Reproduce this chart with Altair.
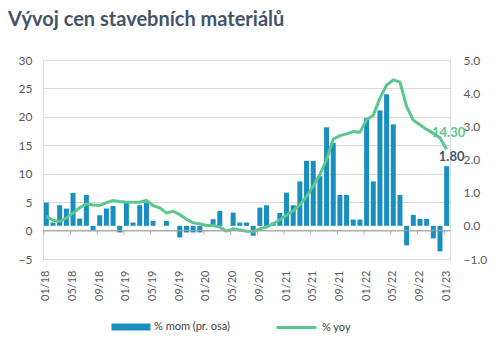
import altair as alt
import pandas as pd

# ---- data ----
MONTHS = [f"{m:02d}/{y:02d}" for y in range(18, 24) for m in range(1, 13)][:61]
AXIS_LABELS = ["01/18", "05/18", "09/18", "01/19", "05/19", "09/19", "01/20", "05/20",
               "09/20", "01/21", "05/21", "09/21", "01/22", "05/22", "09/22", "01/23"]
MOM = [0.70, 0.10, 0.62, 0.52, 0.99, 0.22, 0.93, -0.15, 0.32, 0.52, 0.60, -0.20,
       0.70, 0.10, 0.62, 0.70, 0.15, 0.00, 0.15, 0.00, -0.35, -0.20, -0.20, -0.20,
       0.05, 0.20, 0.45, 0.00, 0.40, 0.10, 0.10, -0.30, 0.55, 0.62, 0.10, 0.39,
       1.00, 0.62, 1.34, 1.96, 1.96, 1.50, 2.97, 2.50, 0.93, 0.93, 0.19, 0.19,
       3.25, 1.34, 3.48, 3.97, 3.06, 0.93, -0.59, 0.33, 0.21, 0.21, -0.38, -0.77,
       1.80]
YOY = [2.5, 1.8, 1.6, 2.2, 3.1, 4.0, 4.7, 4.5, 4.4, 4.9, 5.3, 5.1,
       5.0, 5.0, 5.0, 5.3, 4.4, 4.0, 3.1, 3.4, 2.8, 2.0, 1.35, 1.2,
       0.9, 0.9, 0.6, -0.1, 0.3, 0.1, -0.1, -0.2, 0.3, 0.6, 1.2, 1.9,
       2.7, 3.5, 4.5, 6.0, 7.8, 9.8, 12.5, 16.1, 16.7, 17.0, 17.4, 17.3,
       19.5, 20.3, 23.3, 25.6, 26.5, 26.1, 21.8, 19.4, 18.6, 17.8, 17.1, 16.3,
       14.3]
LEFT_TICKS = [-5, 0, 5, 10, 15, 20, 25, 30]
RIGHT_TICKS = [-1, 0, 1, 2, 3, 4, 5]
MOM_NAME = "% mom (pr. osa)"
YOY_NAME = "% yoy"

BAR_COLOR = "#1A8EBF"
LINE_COLOR = "#5AC78E"
TEXT_DARK = "#44546A"
AXIS_TEXT = "#595959"
GRID = "#D9D9D9"
FONT = "Lato"

df = pd.DataFrame({"month": MONTHS, "mom": MOM, "yoy": YOY,
                   "s_mom": [MOM_NAME] * len(MONTHS), "s_yoy": [YOY_NAME] * len(MONTHS)})
last = df.iloc[[-1]]
ticks_df = pd.DataFrame({"month": AXIS_LABELS})
zero_df = pd.DataFrame({"zero": [0]})

# shared scale / axis definitions (identical in every layer so they merge cleanly)
x_scale = alt.Scale(paddingInner=0.25, paddingOuter=0.125)
x_axis = alt.Axis(values=AXIS_LABELS, labelAngle=270, labelAlign="right",
                  labelBaseline="middle", domain=False, ticks=False,
                  labelPadding=11, labelFont=FONT, labelFontSize=11,
                  labelColor=AXIS_TEXT, bandPosition=0, grid=False,
                  labelOverlap=False, title=None)
right_scale = alt.Scale(domain=[-1, 5], nice=False, zero=False)
right_axis = alt.Axis(orient="right", values=RIGHT_TICKS, format=".1f", grid=False,
                      domain=False, ticks=False, labelPadding=13, labelFont=FONT,
                      labelFontSize=12, labelColor=AXIS_TEXT, labelOverlap=False,
                      title=None)
left_scale = alt.Scale(domain=[-5, 30], nice=False, zero=False)
left_axis = alt.Axis(orient="left", values=LEFT_TICKS, grid=True, gridColor=GRID,
                     domain=False, ticks=False, labelPadding=11, labelFont=FONT,
                     labelFontSize=12, labelColor=AXIS_TEXT, labelOverlap=False,
                     title=None)


def X(**kw):
    return alt.X("month:N", sort=MONTHS, scale=x_scale, axis=x_axis, **kw)


# ---- bars (right axis) ----
bars = alt.Chart(df).mark_bar().encode(
    x=X(),
    y=alt.Y("mom:Q", scale=right_scale, axis=right_axis),
    fill=alt.Fill("s_mom:N", scale=alt.Scale(range=[BAR_COLOR]),
                  legend=alt.Legend(title=None, orient="none", legendX=78, legendY=257,
                                    symbolType="M-2,-0.35H2V0.35H-2Z", symbolSize=380,
                                    symbolStrokeWidth=0, labelOffset=13,
                                    labelFont=FONT, labelFontSize=11,
                                    labelColor="#404040")),
)
mom_text = alt.Chart(last).mark_text(
    align="center", baseline="middle", dx=5, dy=-9, font=FONT, fontSize=13,
    fontWeight="bold", color=TEXT_DARK
).encode(
    x=X(),
    y=alt.Y("mom:Q", scale=right_scale, axis=right_axis),
    text=alt.Text("mom:Q", format=".2f"),
)
bar_group = alt.layer(bars, mom_text)

# ---- line (left axis) ----
line = alt.Chart(df).mark_line(strokeWidth=3).encode(
    x=X(),
    y=alt.Y("yoy:Q", scale=left_scale, axis=left_axis),
    stroke=alt.Stroke("s_yoy:N", scale=alt.Scale(range=[LINE_COLOR]),
                      legend=alt.Legend(title=None, orient="none", legendX=232, legendY=246,
                                        symbolType="stroke", symbolSize=1600,
                                        symbolStrokeWidth=3, labelOffset=4,
                                        labelFont=FONT, labelFontSize=11,
                                        labelColor="#404040")),
)
zero_rule = alt.Chart(zero_df).mark_rule(color="#A6A6A6", strokeWidth=1).encode(
    y=alt.Y("zero:Q", scale=left_scale, axis=left_axis)
)
x_ticks = alt.Chart(ticks_df).mark_rule(color="#A6A6A6", strokeWidth=1, y2Offset=4).encode(
    x=X(bandPosition=0),
    y=alt.Y("zero:Q", scale=left_scale, axis=left_axis),
    y2="zero:Q",
).transform_calculate(zero="0")
yoy_text = alt.Chart(last).mark_text(
    align="center", baseline="middle", dx=2, dy=-16, font=FONT, fontSize=13,
    fontWeight="bold", color=LINE_COLOR
).encode(
    x=X(),
    y=alt.Y("yoy:Q", scale=left_scale, axis=left_axis),
    text=alt.Text("yoy:Q", format=".2f"),
)
line_group = alt.layer(line, zero_rule, x_ticks, yoy_text)

chart = alt.layer(bar_group, line_group).resolve_scale(
    y="independent", fill="independent", stroke="independent"
).properties(
    width=407, height=199,
    padding={"left": 43, "top": 60, "right": 50, "bottom": 91},
    autosize=alt.AutoSizeParams(type="none"),
    title=alt.TitleParams(text="Vývoj cen stavebních materiálů", anchor="start",
                          font=FONT, fontSize=20, fontWeight="bold", color=TEXT_DARK,
                          dx=-10, offset=24),
).configure_view(stroke=None).configure_axis(labelOverlap=False).configure(background="white")

chart.save("out.html", embed_options={"renderer": "svg", "actions": False})
